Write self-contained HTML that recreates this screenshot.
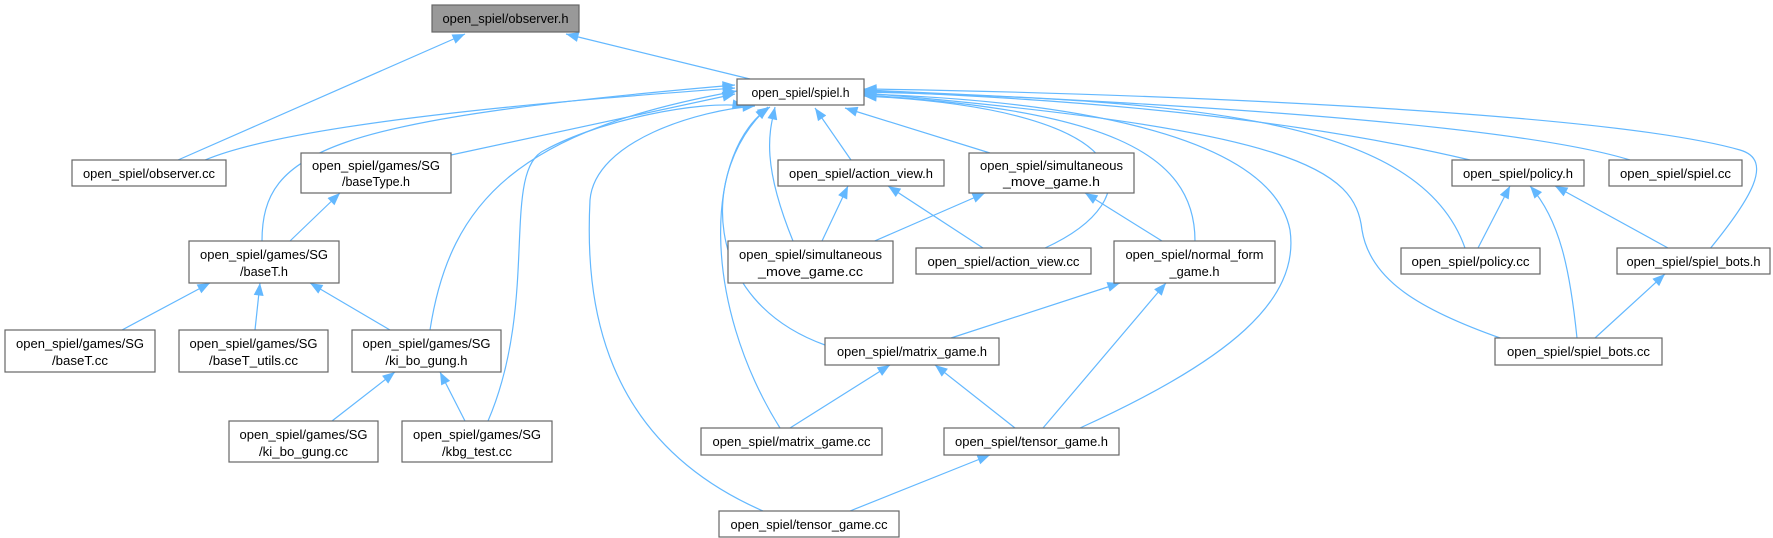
<!DOCTYPE html>
<html><head><meta charset="utf-8"><style>
html,body{margin:0;padding:0;background:#fff;}
svg{display:block;}
text{font-family:"Liberation Sans",Arial,sans-serif;font-size:13px;fill:#000;}
</style></head><body>
<svg width="1773" height="538" viewBox="0 0 1773 538" xmlns="http://www.w3.org/2000/svg">
<defs>
<marker id="a" viewBox="0 0 10 8" refX="10" refY="4" markerUnits="userSpaceOnUse" markerWidth="13" markerHeight="10" orient="auto">
<path d="M0,0 L10,4 L0,8 z" fill="#63b8ff"/>
</marker>
</defs>
<g fill="none" stroke="#63b8ff" stroke-width="1.2" marker-end="url(#a)">
<path d="M178,160 L465,34"/>
<path d="M750,79 L566,34"/>
<path d="M205,160 C300,120 600,98 735,88"/>
<path d="M451,155 L735,94"/>
<path d="M262,241 C262,150 330,120 735,85"/>
<path d="M430,330 C450,200 520,130 737,91"/>
<path d="M488,421 C540,300 500,170 545,150 C600,120 700,100 745,106"/>
<path d="M763,511 C600,440 585,300 590,200 C595,140 700,110 755,106"/>
<path d="M793,241 C760,160 770,130 775,107"/>
<path d="M825,345 C700,300 700,170 768,107"/>
<path d="M780,428 C700,300 705,150 770,107"/>
<path d="M851,160 L815,108"/>
<path d="M990,153 L845,108"/>
<path d="M1045,248 C1150,200 1150,110 864,96"/>
<path d="M1195,241 C1195,150 1100,110 864,95"/>
<path d="M1080,428 C1230,360 1300,300 1290,230 C1270,130 1050,100 864,94"/>
<path d="M1503,339 C1420,310 1370,280 1362,230 C1355,170 1300,130 864,93"/>
<path d="M1465,248 C1420,120 1200,100 864,92"/>
<path d="M1470,160 C1300,120 1100,100 864,91"/>
<path d="M1630,160 C1500,120 1100,100 864,90"/>
<path d="M1709,250 C1750,200 1775,160 1740,150 C1600,110 1100,92 864,89"/>
<path d="M290,241 L340,193"/>
<path d="M122,330 L210,283"/>
<path d="M255,330 L260,283"/>
<path d="M390,330 L310,283"/>
<path d="M332,421 L395,372"/>
<path d="M465,421 L440,372"/>
<path d="M822,241 L848,186"/>
<path d="M983,248 L888,186"/>
<path d="M870,243 L985,193"/>
<path d="M1162,241 L1085,193"/>
<path d="M951,338 L1120,283"/>
<path d="M1043,428 L1166,283"/>
<path d="M790,428 L890,365"/>
<path d="M1015,428 L935,365"/>
<path d="M850,511 L990,455"/>
<path d="M1478,248 L1510,186"/>
<path d="M1577,338 C1570,270 1560,220 1530,186"/>
<path d="M1668,248 L1555,186"/>
<path d="M1595,338 L1665,274"/>
</g>
<g stroke="#666" stroke-width="1.2" fill="#fff">
<rect x="432" y="5" width="147" height="27" fill="#999"/>
<rect x="737" y="79" width="127" height="26"/>
<rect x="72" y="160" width="154" height="26"/>
<rect x="301" y="153" width="150" height="40"/>
<rect x="189" y="241" width="150" height="42"/>
<rect x="778" y="160" width="166" height="26"/>
<rect x="969" y="153" width="165" height="40"/>
<rect x="1452" y="160" width="132" height="26"/>
<rect x="1609" y="160" width="133" height="26"/>
<rect x="728" y="241" width="165" height="42"/>
<rect x="916" y="248" width="175" height="26"/>
<rect x="1114" y="241" width="161" height="42"/>
<rect x="1401" y="248" width="139" height="26"/>
<rect x="1617" y="248" width="153" height="26"/>
<rect x="5" y="330" width="150" height="42"/>
<rect x="179" y="330" width="149" height="42"/>
<rect x="352" y="330" width="149" height="42"/>
<rect x="825" y="338" width="174" height="27"/>
<rect x="1495" y="338" width="167" height="27"/>
<rect x="229" y="421" width="149" height="41"/>
<rect x="402" y="421" width="150" height="41"/>
<rect x="701" y="428" width="181" height="27"/>
<rect x="944" y="428" width="175" height="27"/>
<rect x="719" y="511" width="180" height="26"/>
</g>
<g text-anchor="middle">
<text x="505.5" y="23" textLength="126" lengthAdjust="spacingAndGlyphs">open_spiel/observer.h</text>
<text x="800.5" y="97" textLength="98" lengthAdjust="spacingAndGlyphs">open_spiel/spiel.h</text>
<text x="149" y="178" textLength="132" lengthAdjust="spacingAndGlyphs">open_spiel/observer.cc</text>
<text x="376" y="170" textLength="128" lengthAdjust="spacingAndGlyphs">open_spiel/games/SG</text>
<text x="376" y="186" textLength="68" lengthAdjust="spacingAndGlyphs">/baseType.h</text>
<text x="264" y="259" textLength="128" lengthAdjust="spacingAndGlyphs">open_spiel/games/SG</text>
<text x="264" y="276" textLength="48" lengthAdjust="spacingAndGlyphs">/baseT.h</text>
<text x="861" y="178" textLength="144" lengthAdjust="spacingAndGlyphs">open_spiel/action_view.h</text>
<text x="1051.5" y="170" textLength="143" lengthAdjust="spacingAndGlyphs">open_spiel/simultaneous</text>
<text x="1051.5" y="186" textLength="97" lengthAdjust="spacingAndGlyphs">_move_game.h</text>
<text x="1518" y="178" textLength="110" lengthAdjust="spacingAndGlyphs">open_spiel/policy.h</text>
<text x="1675.5" y="178" textLength="111" lengthAdjust="spacingAndGlyphs">open_spiel/spiel.cc</text>
<text x="810.5" y="259" textLength="143" lengthAdjust="spacingAndGlyphs">open_spiel/simultaneous</text>
<text x="810.5" y="276" textLength="105" lengthAdjust="spacingAndGlyphs">_move_game.cc</text>
<text x="1003.5" y="266" textLength="152" lengthAdjust="spacingAndGlyphs">open_spiel/action_view.cc</text>
<text x="1194.5" y="259" textLength="138" lengthAdjust="spacingAndGlyphs">open_spiel/normal_form</text>
<text x="1194.5" y="276" textLength="50" lengthAdjust="spacingAndGlyphs">_game.h</text>
<text x="1470.5" y="266" textLength="118" lengthAdjust="spacingAndGlyphs">open_spiel/policy.cc</text>
<text x="1693.5" y="266" textLength="134" lengthAdjust="spacingAndGlyphs">open_spiel/spiel_bots.h</text>
<text x="80" y="348" textLength="128" lengthAdjust="spacingAndGlyphs">open_spiel/games/SG</text>
<text x="80" y="365" textLength="56" lengthAdjust="spacingAndGlyphs">/baseT.cc</text>
<text x="253.5" y="348" textLength="128" lengthAdjust="spacingAndGlyphs">open_spiel/games/SG</text>
<text x="253.5" y="365" textLength="89" lengthAdjust="spacingAndGlyphs">/baseT_utils.cc</text>
<text x="426.5" y="348" textLength="128" lengthAdjust="spacingAndGlyphs">open_spiel/games/SG</text>
<text x="426.5" y="365" textLength="82" lengthAdjust="spacingAndGlyphs">/ki_bo_gung.h</text>
<text x="912" y="356" textLength="150" lengthAdjust="spacingAndGlyphs">open_spiel/matrix_game.h</text>
<text x="1578.5" y="356" textLength="143" lengthAdjust="spacingAndGlyphs">open_spiel/spiel_bots.cc</text>
<text x="303.5" y="439" textLength="128" lengthAdjust="spacingAndGlyphs">open_spiel/games/SG</text>
<text x="303.5" y="456" textLength="89" lengthAdjust="spacingAndGlyphs">/ki_bo_gung.cc</text>
<text x="477" y="439" textLength="128" lengthAdjust="spacingAndGlyphs">open_spiel/games/SG</text>
<text x="477" y="456" textLength="70" lengthAdjust="spacingAndGlyphs">/kbg_test.cc</text>
<text x="791.5" y="446" textLength="158" lengthAdjust="spacingAndGlyphs">open_spiel/matrix_game.cc</text>
<text x="1031.5" y="446" textLength="153" lengthAdjust="spacingAndGlyphs">open_spiel/tensor_game.h</text>
<text x="809" y="529" textLength="157" lengthAdjust="spacingAndGlyphs">open_spiel/tensor_game.cc</text>
</g>
</svg>
</body></html>
